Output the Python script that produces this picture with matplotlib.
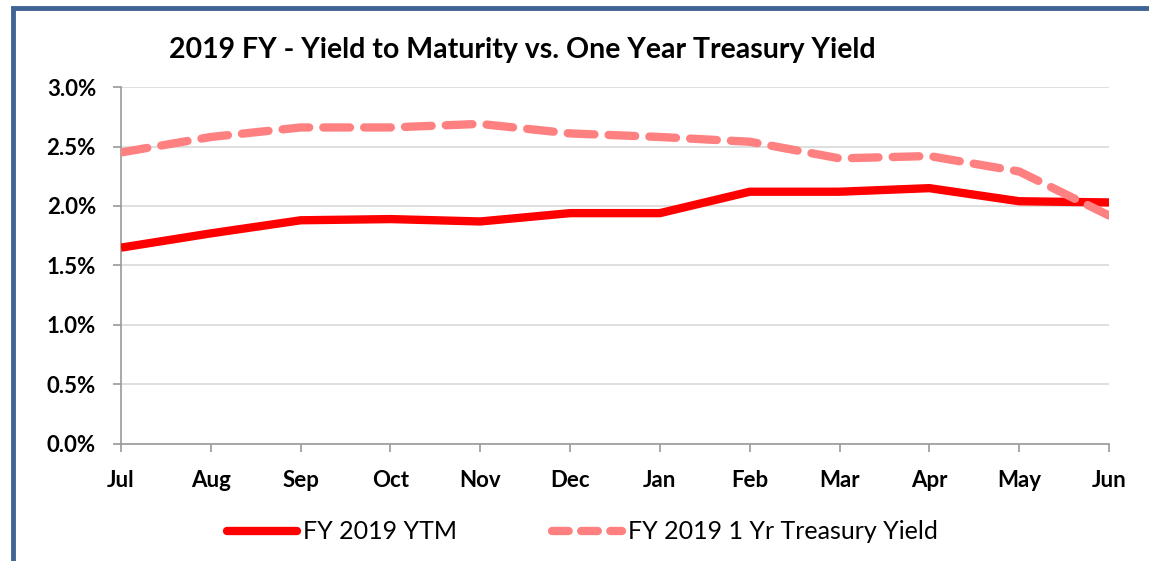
import matplotlib.pyplot as plt
from matplotlib.lines import Line2D
from matplotlib.patches import Rectangle
from matplotlib.ticker import FuncFormatter

plt.rcParams['font.family'] = ['Lato', 'DejaVu Sans']

months = ['Jul', 'Aug', 'Sep', 'Oct', 'Nov', 'Dec',
          'Jan', 'Feb', 'Mar', 'Apr', 'May', 'Jun']
ytm = [1.65, 1.77, 1.88, 1.89, 1.87, 1.94, 1.94, 2.12, 2.12, 2.15, 2.04, 2.03]
treasury = [2.45, 2.58, 2.66, 2.66, 2.69, 2.61, 2.58, 2.54, 2.40, 2.42, 2.29, 1.92]
y_ticks = [0.0, 0.5, 1.0, 1.5, 2.0, 2.5, 3.0]

fig = plt.figure(figsize=(11.49, 5.61), dpi=100)
ax = fig.add_axes([0.1053, 0.2086, 0.8599, 0.6363])

# blue frame around the chart (right/bottom cut off in the original)
fig.patches.append(Rectangle((0.011, -0.05), 1.2, 1.035, transform=fig.transFigure,
                             fill=False, edgecolor='#3F6596', linewidth=3.5))

x = list(range(len(months)))
ax.plot(x, ytm, color='#FF0000', linewidth=6, solid_capstyle='butt',
        label='FY 2019 YTM', zorder=3)
ax.plot(x, treasury, color='#FF8080', linewidth=6, linestyle=(0, (3.2, 1.7)),
        dash_capstyle='round', label='FY 2019 1 Yr Treasury Yield', zorder=3)

ax.set_xlim(0, len(months) - 1)
ax.set_ylim(0, 3.0)
ax.set_xticks(x)
ax.set_xticklabels(months)
ax.set_yticks(y_ticks)
ax.yaxis.set_major_formatter(FuncFormatter(lambda v, p: '{:.1f}%'.format(v)))

for lab in ax.get_xticklabels() + ax.get_yticklabels():
    lab.set_fontweight('bold')
    lab.set_fontsize(16)

ax.grid(axis='y', color='#D9D9D9', linewidth=1.2, zorder=0)
ax.spines['top'].set_visible(False)
ax.spines['right'].set_visible(False)
ax.spines['left'].set_color('#9A9A9A')
ax.spines['bottom'].set_color('#9A9A9A')
ax.spines['left'].set_linewidth(1.2)
ax.spines['bottom'].set_linewidth(1.2)
ax.tick_params(axis='both', color='#9A9A9A', length=6, width=1.2)
ax.tick_params(axis='x', pad=13)
ax.tick_params(axis='y', pad=12)

fig.text(0.455, 0.91, '2019 FY - Yield to Maturity vs. One Year Treasury Yield',
         ha='center', va='center', fontsize=20.5, fontweight='bold')

handles = [Line2D([], [], color='#FF0000', linewidth=6, solid_capstyle='round'),
           Line2D([], [], color='#FF8080', linewidth=6, linestyle=(0, (2.0, 1.5)),
                  dash_capstyle='round')]
fig.legend(handles, ['FY 2019 YTM', 'FY 2019 1 Yr Treasury Yield'],
           loc='center', bbox_to_anchor=(0.507, 0.052), ncol=2, frameon=False,
           fontsize=18, handlelength=2.8, handletextpad=0.25, columnspacing=3.8)

fig.savefig('out.png', dpi=100)
